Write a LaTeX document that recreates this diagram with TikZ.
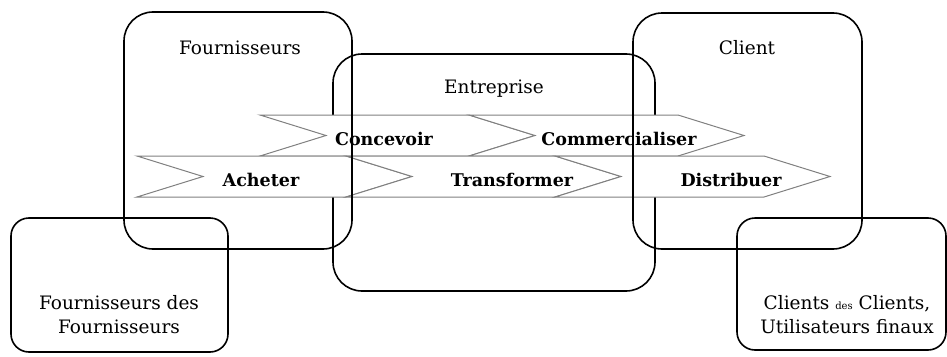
\documentclass[tikz,border=0pt]{standalone}
\usepackage{fontspec}
\setmainfont{DejaVu Serif}
\begin{document}
\begin{tikzpicture} [x=1pt, y=-1pt, boite/.style={black,line width=1.6pt,rounded corners=29pt},
petite boite/.style={boite,rounded corners=18pt}, etape/.style={draw=black!50,fill=white,line width=1pt},
etiquette/.style={anchor=base,inner sep=0pt,font=\fontsize{17.5}{20}\selectfont\bfseries},
titre/.style={anchor=base,inner sep=0pt,font=\fontsize{18.5}{24}\selectfont}]

\useasboundingbox (0,0) rectangle (947,356);

%coins des cadres
\coordinate (F1) at (124,12);
\coordinate (F2) at (352,249);
\coordinate (E1) at (333,54);
\coordinate (E2) at (655,291);
\coordinate (C1) at (633,13);
\coordinate (C2) at (862,249);
\coordinate (FF1) at (11,218);
\coordinate (FF2) at (228,352);
\coordinate (CC1) at (737,218);
\coordinate (CC2) at (946,350);

\draw[boite] (E1) rectangle (E2);

%la chaine de valeur
\foreach \g/\h/\nom/\txt/\cx in {260/115/concevoir/Concevoir/384, 469/115/commercialiser/Commercialiser/619,
  137/156/acheter/Acheter/261, 346/156/transformer/Transformer/512, 555/156/distribuer/Distribuer/731}{
  \draw[etape] (\g,\h) -- ++(209,0) -- ++(66,20.5) -- ++(-66,20.5) -- ++(-209,0) -- ++(66,-20.5) -- cycle;
  \node[etiquette] (\nom) at (\cx,\h+30) {\txt};
}

\draw[boite] (F1) rectangle (F2);
\draw[boite] (C1) rectangle (C2);
\draw[petite boite] (FF1) rectangle (FF2);
\draw[petite boite] (CC1) rectangle (CC2);

\node[titre] (fournisseurs) at (240,54) {Fournisseurs};
\node[titre] (entreprise) at (494,93) {Entreprise};
\node[titre] (client) at (747,54) {Client};
\node[titre,align=center] (fourn fourn) at (119,333) {Fournisseurs des\\Fournisseurs};
\node[titre,align=center] (clients clients) at (847,333) {Clients {\fontsize{10}{10}\selectfont des} Clients,\\Utilisateurs finaux};

\end{tikzpicture}
\end{document}
